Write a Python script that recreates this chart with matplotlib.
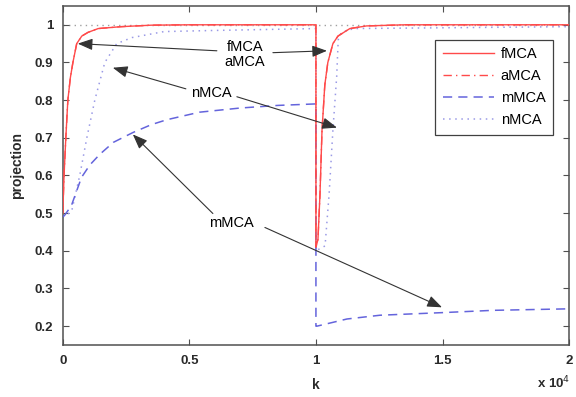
import numpy as np
import matplotlib
matplotlib.use("Agg")
import matplotlib.pyplot as plt

plt.rcParams["font.family"] = ["Liberation Sans", "DejaVu Sans"]

# values (k, projection)
k_f = [0, 50, 120, 200, 300, 400, 550, 750, 1000, 1400, 2300, 3500, 5000, 10000,
       10000, 10080, 10160, 10240, 10350, 10470, 10670, 10870, 11340, 12000, 13500, 20000]
fmca = [0.5, 0.6, 0.7, 0.8, 0.86, 0.9, 0.95, 0.97, 0.98, 0.99, 0.995, 0.999, 1.0, 1.0,
        0.41, 0.43, 0.55, 0.72, 0.84, 0.9, 0.95, 0.97, 0.99, 0.997, 1.0, 1.0]

k_a = [0, 50, 120, 200, 300, 400, 550, 750, 1000, 1400, 2300, 3500, 5000, 10000,
       10000, 10080, 10160, 10240, 10350, 10470, 10670, 10870, 11340, 12000, 13500, 20000]
amca = [0.5, 0.6, 0.7, 0.8, 0.86, 0.9, 0.95, 0.97, 0.98, 0.99, 0.995, 0.999, 1.0, 1.0,
        0.41, 0.43, 0.55, 0.72, 0.84, 0.9, 0.95, 0.97, 0.99, 0.997, 1.0, 1.0]

k_m = [0, 80, 340, 740, 1070, 1460, 2000, 2770, 3500, 4110, 5400, 7000, 8500, 10000,
       10000, 10040, 11225, 12530, 15020, 17000, 20000]
mmca = [0.49, 0.495, 0.52, 0.595, 0.628, 0.656, 0.688, 0.714, 0.735, 0.748, 0.768, 0.779, 0.786, 0.79,
        0.2, 0.2, 0.219, 0.229, 0.236, 0.242, 0.246]

k_n = [0, 150, 350, 670, 950, 1265, 1660, 2130, 2730, 4000, 6000, 10000,
       10000, 10360, 10520, 10670, 10820, 10880, 11000, 11500, 20000]
nmca = [0.49, 0.495, 0.505, 0.6, 0.7, 0.8, 0.9, 0.95, 0.966, 0.982, 0.985, 0.99,
        0.40, 0.413, 0.55, 0.72, 0.863, 0.96, 0.98, 0.99, 0.995]

ref_level = 1.0

xticks = [0, 5000, 10000, 15000, 20000]
xticklabels = ["0", "0.5", "1", "1.5", "2"]
yticks = [0.2, 0.3, 0.4, 0.5, 0.6, 0.7, 0.8, 0.9, 1.0]
yticklabels = ["0.2", "0.3", "0.4", "0.5", "0.6", "0.7", "0.8", "0.9", "1"]

red = "#ff4a4a"
blue = "#6464dc"
lblue = "#9a9ae6"
ink = "#2a2a2a"

fig = plt.figure(figsize=(5.76, 3.97), dpi=100)
ax = fig.add_axes([0.109, 0.131, 0.879, 0.854])

ax.axhline(ref_level, color="#a0a0a0", ls=(0, (1, 3)), lw=1.0, zorder=1)
ax.plot(k_n, nmca, color=lblue, ls=(0, (1, 3)), lw=1.1, label="nMCA", zorder=2)
ax.plot(k_m, mmca, color=blue, ls=(0, (6, 4)), lw=1.1, label="mMCA", zorder=3)
ax.plot(k_f, fmca, color=red, ls="-", lw=1.0, label="fMCA", zorder=4)
ax.plot(k_a, amca, color=red, ls=(0, (6, 3, 1, 3)), lw=1.0, label="aMCA", zorder=5)

ax.set_xlim(0, 20000)
ax.set_ylim(0.15, 1.05)
ax.set_xticks(xticks)
ax.set_xticklabels(xticklabels, fontweight="bold", color=ink)
ax.set_yticks(yticks)
ax.set_yticklabels(yticklabels, fontweight="bold", color=ink)
ax.tick_params(direction="in", top=True, right=True, length=4, width=0.8,
               color="#505050", labelsize=9.5, pad=7)
for s in ax.spines.values():
    s.set_color("#505050")
    s.set_linewidth(1.1)

ax.set_xlabel("k", fontsize=10, fontweight="bold", color=ink, labelpad=8)
ax.set_ylabel("projection", fontsize=10, fontweight="bold", color=ink)
ax.yaxis.set_label_coords(-0.077, 0.53)
fig.text(0.99, 0.015, r"x 10$^{4}$", ha="right", va="bottom", fontsize=9.5,
         fontweight="bold", color=ink)

handles, labels = ax.get_legend_handles_labels()
order = [labels.index(n) for n in ["fMCA", "aMCA", "mMCA", "nMCA"]]
leg = ax.legend([handles[i] for i in order], [labels[i] for i in order],
                loc="upper right", bbox_to_anchor=(0.968, 0.90), fontsize=10.5,
                fancybox=False, framealpha=1, edgecolor="#404040",
                handlelength=3.5, labelspacing=0.55, borderpad=0.5,
                borderaxespad=0, handletextpad=0.5)
leg.get_frame().set_linewidth(0.9)

# annotations
arrow = dict(arrowstyle="-|>,head_length=0.9,head_width=0.35", color="#333333",
             lw=0.8, shrinkA=0, shrinkB=0)
arrows = [
    ((6087, 0.931), (593, 0.950)),
    ((8300, 0.926), (10435, 0.931)),
    ((4862, 0.830), (1976, 0.886)),
    ((6877, 0.809), (10830, 0.727)),
    ((5929, 0.499), (2767, 0.709)),
    ((7984, 0.462), (14980, 0.250)),
]
for tail, tip in arrows:
    ax.annotate("", xy=tip, xytext=tail, arrowprops=arrow, zorder=6)

ax.text(7194, 0.921, "fMCA\naMCA", ha="center", va="center", fontsize=10.5,
        linespacing=1.1, zorder=7)
ax.text(5850, 0.82, "nMCA", ha="center", va="center", fontsize=10.5, zorder=7)
ax.text(6680, 0.475, "mMCA", ha="center", va="center", fontsize=10.5, zorder=7)

fig.savefig("out.png", dpi=100)
